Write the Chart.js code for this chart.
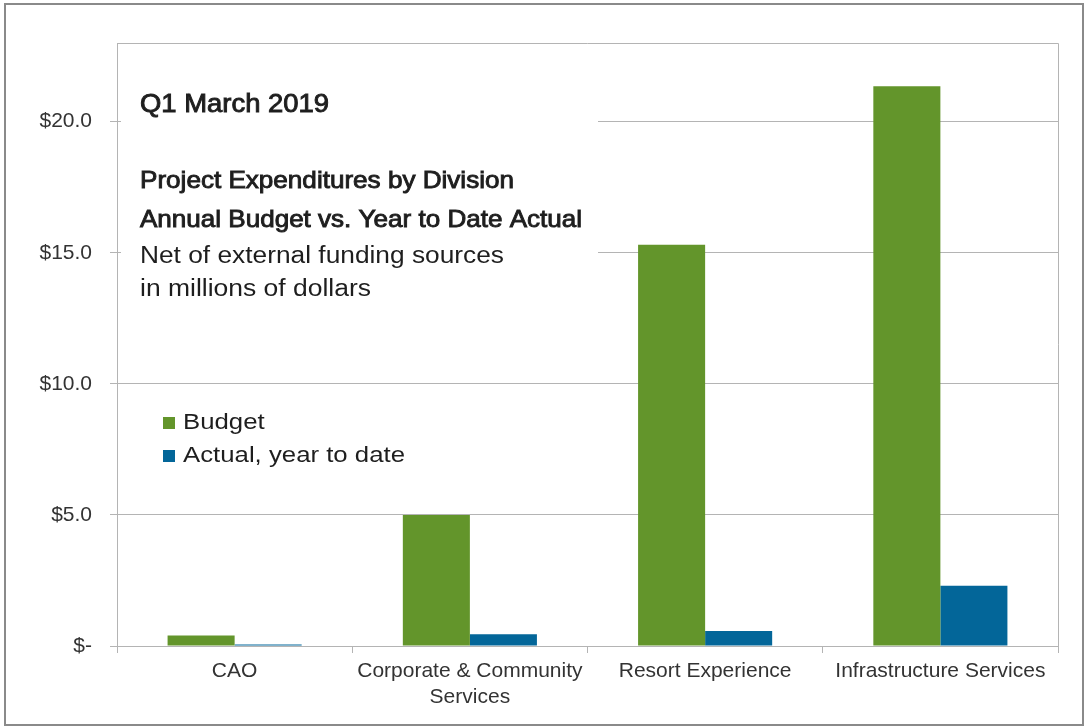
<!DOCTYPE html>
<html>
<head>
<meta charset="utf-8">
<script src="https://cdn.jsdelivr.net/npm/chart.js@4/dist/chart.umd.min.js"></script>
<style>
  html, body { margin: 0; padding: 0; background: #fff; }
  canvas { display: block; }
</style>
</head>
<body>
<canvas id="expChart" width="1087" height="728"></canvas>
<script>
// chart data
const categories = ['CAO', ['Corporate & Community', 'Services'], 'Resort Experience', 'Infrastructure Services'];
const budget = [0.4, 5.0, 15.3, 21.35];
const actual = [0.06, 0.45, 0.57, 2.3];
const seriesLabels = ['Budget', 'Actual, year to date'];
const yTicks = [0, 5, 10, 15, 20];
const titleLines = [
    'Q1 March 2019',
    'Project Expenditures by Division',
    'Annual Budget vs. Year to Date Actual',
    'Net of external funding sources',
    'in millions of dollars'
];

const GREEN = '#63952b';
const BLUE = '#036699';
const GRID = '#b4b4b4';
const TEXT = '#1e1e1e';
const AXIS_TEXT = '#333';
const FONT = '"Liberation Sans", Arial, sans-serif';

// draw text squeezed/stretched to a target width; 'heavy' adds a thin outline for a medium weight look
function fitText(ctx, text, x, y, width, size, heavy) {
    ctx.save();
    ctx.font = size + 'px ' + FONT;
    const w = ctx.measureText(text).width;
    ctx.translate(x, y);
    ctx.scale(width / w, 1);
    ctx.fillText(text, 0, 0);
    if (heavy) {
        ctx.lineWidth = 0.9;
        ctx.strokeStyle = ctx.fillStyle;
        ctx.strokeText(text, 0, 0);
    }
    ctx.restore();
}

const decorations = {
    id: 'decorations',
    beforeDatasetsDraw(chart) {
        const ctx = chart.ctx;
        const area = chart.chartArea;
        // white text box hides the grid lines behind the titles
        ctx.save();
        ctx.fillStyle = '#fff';
        ctx.fillRect(area.left + 4, 62, 598 - area.left - 4, 244);
        ctx.fillStyle = TEXT;
        ctx.textBaseline = 'alphabetic';
        fitText(ctx, titleLines[0], 140, 112, 189, 25, true);
        fitText(ctx, titleLines[1], 140, 188, 374, 24, true);
        fitText(ctx, titleLines[2], 140, 227, 442, 24, true);
        fitText(ctx, titleLines[3], 140, 263, 364, 23, false);
        fitText(ctx, titleLines[4], 140, 296, 231, 23, false);
        ctx.restore();
    },
    afterDraw(chart) {
        const ctx = chart.ctx;
        const area = chart.chartArea;
        ctx.save();
        // plot area frame (top and right)
        ctx.strokeStyle = GRID;
        ctx.lineWidth = 1;
        ctx.beginPath();
        ctx.moveTo(area.left, area.top + 0.5);
        ctx.lineTo(area.right + 0.5, area.top + 0.5);
        ctx.lineTo(area.right + 0.5, area.bottom);
        ctx.stroke();

        // legend inside the plot
        const rows = [429, 462];
        ctx.font = '22px ' + FONT;
        const k = 222 / ctx.measureText(seriesLabels[1]).width;
        chart.data.datasets.forEach((ds, i) => {
            ctx.fillStyle = ds.backgroundColor;
            ctx.fillRect(163, rows[i] - 12, 12, 12);
            ctx.fillStyle = TEXT;
            ctx.save();
            ctx.translate(183, rows[i]);
            ctx.scale(k, 1);
            ctx.fillText(ds.label, 0, 0);
            ctx.restore();
        });

        // outer border
        ctx.strokeStyle = '#8a8a8a';
        ctx.lineWidth = 2;
        ctx.strokeRect(5, 4, 1078, 721);
        ctx.restore();
    }
};

new Chart(document.getElementById('expChart').getContext('2d'), {
    type: 'bar',
    data: {
        labels: categories,
        datasets: [
            {
                label: seriesLabels[0],
                data: budget,
                backgroundColor: GREEN,
                borderWidth: 0
            },
            {
                label: seriesLabels[1],
                data: actual,
                backgroundColor: BLUE,
                borderWidth: 0
            }
        ]
    },
    options: {
        responsive: false,
        animation: false,
        devicePixelRatio: 1,
        categoryPercentage: 0.57,
        barPercentage: 1.0,
        layout: {
            padding: { top: 43, right: 29, left: 0, bottom: 0 }
        },
        plugins: {
            legend: { display: false },
            title: { display: false },
            tooltip: { enabled: false }
        },
        scales: {
            x: {
                afterFit: s => { s.height = 82; },
                grid: {
                    offset: true,
                    drawOnChartArea: false,
                    drawTicks: true,
                    tickLength: 7,
                    color: GRID
                },
                border: { display: true, color: GRID },
                ticks: {
                    color: AXIS_TEXT,
                    padding: 5,
                    maxRotation: 0,
                    autoSkip: false,
                    font: { family: FONT, size: 21, lineHeight: 1.25 }
                }
            },
            y: {
                min: 0,
                max: 23,
                afterFit: s => { s.width = 117; },
                afterBuildTicks: s => { s.ticks = yTicks.map(v => ({ value: v })); },
                grid: {
                    color: GRID,
                    tickLength: 7
                },
                border: { display: true, color: GRID },
                ticks: {
                    color: AXIS_TEXT,
                    padding: 18,
                    font: { family: FONT, size: 21 },
                    callback: v => v === 0 ? '$-' : '$' + v.toFixed(1)
                }
            }
        }
    },
    plugins: [decorations]
});
</script>
</body>
</html>
